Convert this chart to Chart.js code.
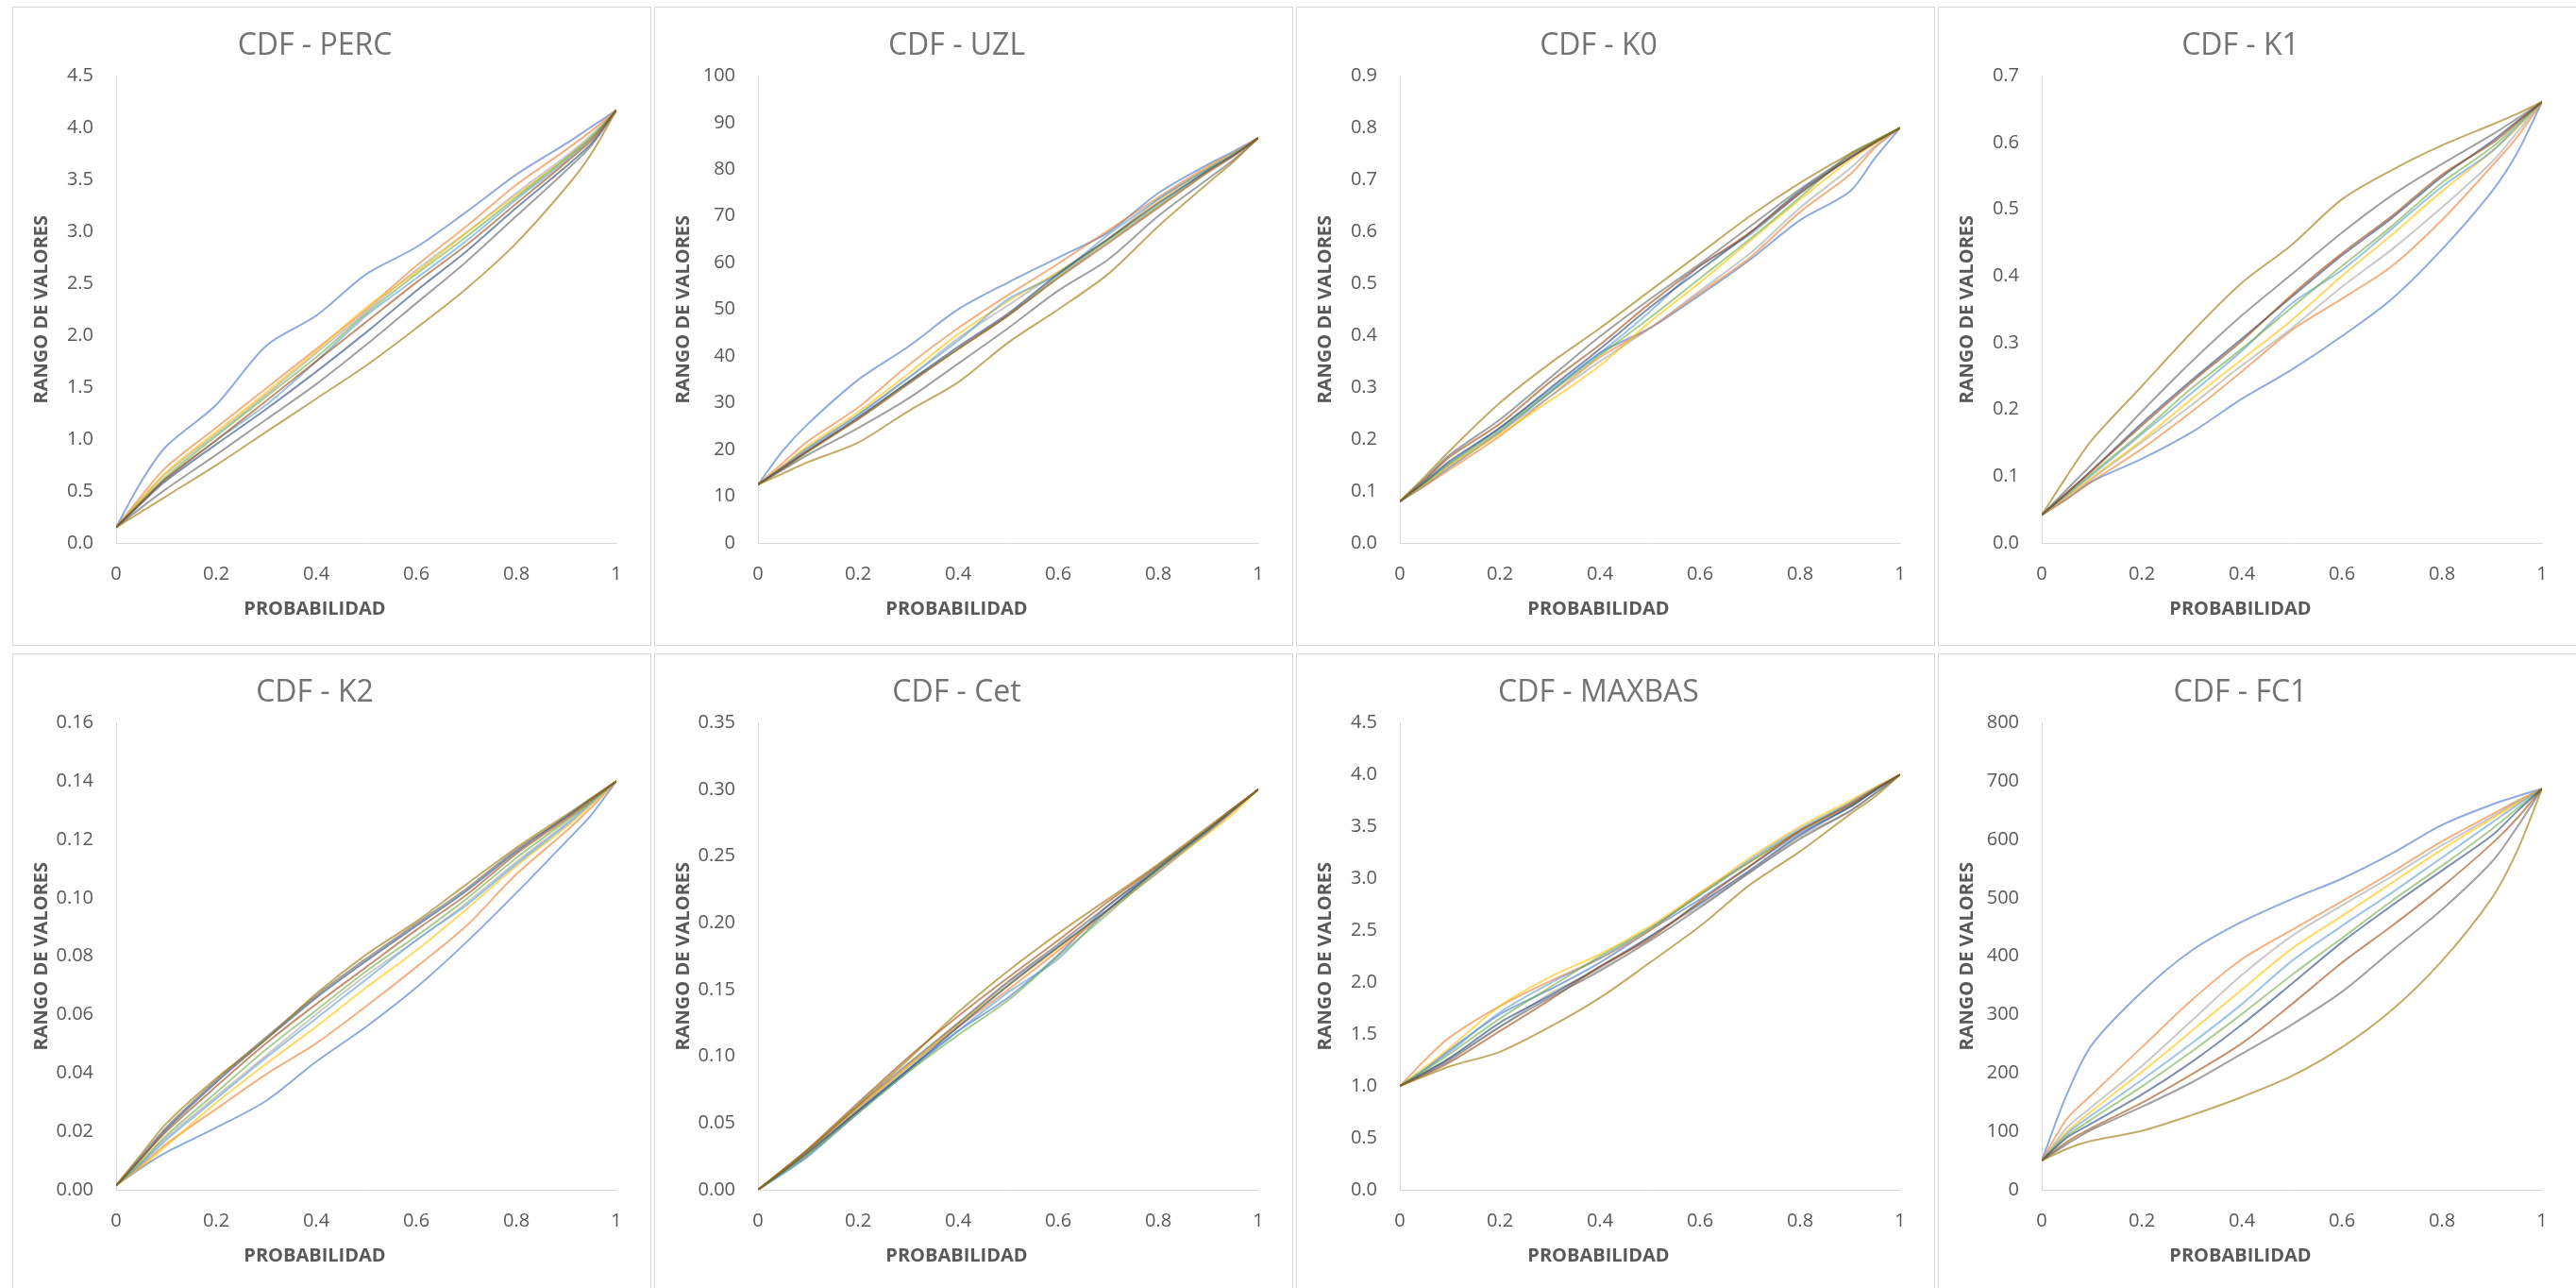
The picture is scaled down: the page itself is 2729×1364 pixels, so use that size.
<!DOCTYPE html>
<html>
<head>
<meta charset="utf-8">
<title>CDF</title>
<script src="https://cdn.jsdelivr.net/npm/chart.js@4.4.1/dist/chart.umd.min.js"></script>
<style>
  html, body { margin: 0; padding: 0; background: #fff; width: 2729px; height: 1364px; overflow: hidden; }
  .panel { position: absolute; width: 677px; height: 677px; border: 1px solid #d9d9d9; box-sizing: border-box; background: #fff; }
  .panel canvas { display: block; }
</style>
</head>
<body>
<script>
// ─── Data ───────────────────────────────────────────────────

const probs = [0, 0.05, 0.1, 0.2, 0.3, 0.4, 0.5, 0.6, 0.7, 0.8, 0.9, 0.95, 1];

const panelTitles = ['CDF - PERC', 'CDF - UZL', 'CDF - K0', 'CDF - K1',
                     'CDF - K2', 'CDF - Cet', 'CDF - MAXBAS', 'CDF - FC1'];
const yMaxes   = [4.5, 100, 0.9, 0.7, 0.16, 0.35, 4.5, 800];
const ySteps   = [0.5, 10, 0.1, 0.1, 0.02, 0.05, 0.5, 100];
const yDecimals = [1, 0, 1, 1, 2, 2, 1, 0];
const xTicks = [0, 0.2, 0.4, 0.6, 0.8, 1];

const percSeries = [
  [0.15, 0.59, 0.93, 1.33, 1.90, 2.19, 2.59, 2.85, 3.19, 3.55, 3.85, 4.01, 4.17],
  [0.15, 0.45, 0.73, 1.11, 1.49, 1.87, 2.25, 2.67, 3.05, 3.45, 3.79, 3.97, 4.17],
  [0.15, 0.42, 0.67, 1.05, 1.43, 1.83, 2.23, 2.63, 2.99, 3.37, 3.73, 3.93, 4.17],
  [0.15, 0.42, 0.68, 1.07, 1.45, 1.85, 2.27, 2.61, 2.99, 3.35, 3.71, 3.91, 4.17],
  [0.15, 0.39, 0.62, 0.99, 1.33, 1.75, 2.19, 2.55, 2.91, 3.31, 3.69, 3.90, 4.17],
  [0.15, 0.40, 0.64, 1.03, 1.41, 1.79, 2.21, 2.59, 2.95, 3.33, 3.71, 3.91, 4.17],
  [0.15, 0.38, 0.60, 0.95, 1.29, 1.65, 2.03, 2.43, 2.81, 3.23, 3.63, 3.85, 4.17],
  [0.15, 0.39, 0.62, 0.99, 1.37, 1.75, 2.13, 2.51, 2.87, 3.27, 3.67, 3.88, 4.17],
  [0.15, 0.34, 0.52, 0.85, 1.19, 1.53, 1.91, 2.31, 2.71, 3.15, 3.59, 3.83, 4.17],
  [0.15, 0.30, 0.45, 0.75, 1.07, 1.39, 1.71, 2.07, 2.45, 2.89, 3.43, 3.75, 4.17],
];

const uzlSeries = [
  [12.5, 19.8, 25.5, 34.9, 42.0, 50.0, 55.8, 61.1, 66.5, 74.9, 81.1, 83.8, 86.7],
  [12.5, 17.2, 21.8, 29.0, 38.0, 46.0, 53.1, 59.8, 66.9, 74.0, 80.7, 83.5, 86.7],
  [12.5, 16.4, 20.4, 27.5, 35.3, 43.8, 50.9, 58.0, 65.1, 73.6, 80.2, 83.3, 86.7],
  [12.5, 16.6, 20.8, 28.0, 36.2, 44.7, 51.8, 58.0, 65.1, 73.1, 80.4, 83.4, 86.7],
  [12.5, 16.4, 20.3, 27.4, 35.3, 43.3, 52.2, 57.6, 66.0, 73.6, 80.2, 83.3, 86.7],
  [12.5, 15.9, 19.5, 26.6, 34.4, 41.5, 48.7, 57.1, 64.7, 72.2, 79.8, 83.0, 86.7],
  [12.5, 16.1, 19.8, 26.9, 34.4, 42.0, 49.1, 57.6, 65.1, 72.7, 79.8, 83.0, 86.7],
  [12.5, 16.1, 19.7, 26.5, 34.0, 41.5, 48.7, 56.7, 64.2, 71.8, 79.4, 82.8, 86.7],
  [12.5, 15.7, 18.9, 24.6, 30.9, 38.4, 46.0, 54.0, 60.7, 70.0, 78.0, 82.0, 86.7],
  [12.5, 14.9, 17.3, 21.5, 28.2, 34.4, 42.9, 50.0, 57.6, 67.8, 77.1, 81.6, 86.7],
];

const k0Series = [
  [0.08, 0.111, 0.146, 0.214, 0.290, 0.366, 0.414, 0.478, 0.546, 0.622, 0.678, 0.742, 0.80],
  [0.08, 0.110, 0.142, 0.206, 0.282, 0.358, 0.414, 0.482, 0.550, 0.638, 0.710, 0.762, 0.80],
  [0.08, 0.114, 0.150, 0.214, 0.282, 0.350, 0.414, 0.486, 0.558, 0.646, 0.722, 0.765, 0.80],
  [0.08, 0.114, 0.150, 0.210, 0.274, 0.342, 0.426, 0.502, 0.582, 0.662, 0.738, 0.770, 0.80],
  [0.08, 0.116, 0.154, 0.222, 0.294, 0.366, 0.446, 0.534, 0.594, 0.674, 0.742, 0.772, 0.80],
  [0.08, 0.116, 0.154, 0.218, 0.290, 0.362, 0.434, 0.510, 0.586, 0.666, 0.750, 0.776, 0.80],
  [0.08, 0.118, 0.158, 0.222, 0.298, 0.374, 0.454, 0.526, 0.598, 0.678, 0.742, 0.772, 0.80],
  [0.08, 0.121, 0.166, 0.230, 0.310, 0.382, 0.462, 0.534, 0.598, 0.674, 0.742, 0.772, 0.80],
  [0.08, 0.124, 0.170, 0.238, 0.318, 0.398, 0.470, 0.538, 0.610, 0.682, 0.746, 0.774, 0.80],
  [0.08, 0.128, 0.178, 0.270, 0.346, 0.414, 0.486, 0.558, 0.630, 0.694, 0.750, 0.774, 0.80],
];

const k1Series = [
  [0.042, 0.066, 0.092, 0.126, 0.166, 0.216, 0.260, 0.310, 0.366, 0.440, 0.527, 0.584, 0.661],
  [0.042, 0.066, 0.092, 0.141, 0.197, 0.257, 0.319, 0.366, 0.415, 0.484, 0.565, 0.608, 0.661],
  [0.042, 0.069, 0.096, 0.151, 0.207, 0.266, 0.322, 0.384, 0.440, 0.503, 0.571, 0.615, 0.661],
  [0.042, 0.070, 0.098, 0.154, 0.216, 0.275, 0.334, 0.400, 0.462, 0.527, 0.587, 0.622, 0.661],
  [0.042, 0.072, 0.102, 0.163, 0.225, 0.288, 0.359, 0.409, 0.471, 0.534, 0.587, 0.624, 0.661],
  [0.042, 0.073, 0.104, 0.166, 0.232, 0.291, 0.353, 0.415, 0.475, 0.540, 0.593, 0.627, 0.661],
  [0.042, 0.075, 0.109, 0.179, 0.244, 0.306, 0.369, 0.431, 0.487, 0.549, 0.602, 0.632, 0.661],
  [0.042, 0.075, 0.108, 0.176, 0.241, 0.303, 0.372, 0.434, 0.490, 0.552, 0.599, 0.630, 0.661],
  [0.042, 0.080, 0.118, 0.197, 0.272, 0.341, 0.403, 0.465, 0.521, 0.568, 0.612, 0.636, 0.661],
  [0.042, 0.100, 0.154, 0.235, 0.316, 0.390, 0.447, 0.515, 0.559, 0.596, 0.627, 0.643, 0.661],
];

const k2Series = [
  [0.0015, 0.0075, 0.0128, 0.0213, 0.0305, 0.0439, 0.0559, 0.0693, 0.0848, 0.1017, 0.1194, 0.1285, 0.140],
  [0.0015, 0.0083, 0.0157, 0.0277, 0.0396, 0.0502, 0.0629, 0.0763, 0.0904, 0.1081, 0.1229, 0.1310, 0.140],
  [0.0015, 0.0093, 0.0178, 0.0319, 0.0460, 0.0601, 0.0735, 0.0855, 0.0982, 0.1123, 0.1256, 0.1330, 0.140],
  [0.0015, 0.0079, 0.0150, 0.0298, 0.0432, 0.0559, 0.0693, 0.0820, 0.0961, 0.1109, 0.1243, 0.1320, 0.140],
  [0.0015, 0.0089, 0.0171, 0.0312, 0.0453, 0.0587, 0.0721, 0.0855, 0.0975, 0.1116, 0.1250, 0.1325, 0.140],
  [0.0015, 0.0097, 0.0185, 0.0333, 0.0481, 0.0615, 0.0749, 0.0869, 0.0996, 0.1137, 0.1264, 0.1330, 0.140],
  [0.0015, 0.0107, 0.0206, 0.0368, 0.0516, 0.0658, 0.0784, 0.0904, 0.1024, 0.1158, 0.1278, 0.1340, 0.140],
  [0.0015, 0.0107, 0.0199, 0.0354, 0.0502, 0.0636, 0.0763, 0.0890, 0.1010, 0.1151, 0.1271, 0.1335, 0.140],
  [0.0015, 0.0114, 0.0213, 0.0375, 0.0523, 0.0665, 0.0792, 0.0911, 0.1031, 0.1165, 0.1278, 0.1340, 0.140],
  [0.0015, 0.0121, 0.0227, 0.0382, 0.0516, 0.0672, 0.0806, 0.0919, 0.1046, 0.1172, 0.1285, 0.1342, 0.140],
];

const cetSeries = [
  [0, 0.0125, 0.0256, 0.0590, 0.0898, 0.119, 0.144, 0.176, 0.213, 0.240, 0.268, 0.284, 0.300],
  [0, 0.0135, 0.0272, 0.0605, 0.0929, 0.122, 0.150, 0.179, 0.209, 0.238, 0.268, 0.284, 0.300],
  [0, 0.0135, 0.0272, 0.0605, 0.0914, 0.124, 0.155, 0.182, 0.210, 0.238, 0.269, 0.285, 0.300],
  [0, 0.0150, 0.0295, 0.0620, 0.0929, 0.124, 0.153, 0.181, 0.210, 0.240, 0.267, 0.282, 0.300],
  [0, 0.0120, 0.0250, 0.0574, 0.0883, 0.119, 0.148, 0.173, 0.210, 0.240, 0.269, 0.285, 0.300],
  [0, 0.0130, 0.0265, 0.0574, 0.0883, 0.116, 0.142, 0.175, 0.207, 0.240, 0.270, 0.285, 0.300],
  [0, 0.0138, 0.0281, 0.0590, 0.0898, 0.122, 0.153, 0.182, 0.210, 0.241, 0.270, 0.285, 0.300],
  [0, 0.0150, 0.0306, 0.0651, 0.0991, 0.130, 0.159, 0.187, 0.216, 0.243, 0.271, 0.286, 0.300],
  [0, 0.0142, 0.0292, 0.0627, 0.0944, 0.125, 0.156, 0.184, 0.213, 0.242, 0.270, 0.285, 0.300],
  [0, 0.0148, 0.0300, 0.0636, 0.0975, 0.133, 0.164, 0.192, 0.218, 0.244, 0.272, 0.286, 0.300],
];

const maxbasSeries = [
  [1.0, 1.16, 1.35, 1.69, 1.93, 2.19, 2.50, 2.80, 3.12, 3.44, 3.69, 3.85, 4.0],
  [1.0, 1.25, 1.47, 1.77, 2.01, 2.23, 2.50, 2.86, 3.16, 3.46, 3.73, 3.87, 4.0],
  [1.0, 1.13, 1.27, 1.57, 1.89, 2.13, 2.44, 2.74, 3.06, 3.40, 3.65, 3.82, 4.0],
  [1.0, 1.18, 1.37, 1.77, 2.05, 2.27, 2.54, 2.86, 3.20, 3.50, 3.75, 3.88, 4.0],
  [1.0, 1.16, 1.33, 1.71, 1.99, 2.23, 2.52, 2.84, 3.18, 3.48, 3.73, 3.87, 4.0],
  [1.0, 1.15, 1.31, 1.65, 1.95, 2.25, 2.52, 2.84, 3.16, 3.46, 3.71, 3.86, 4.0],
  [1.0, 1.13, 1.27, 1.61, 1.87, 2.15, 2.44, 2.76, 3.08, 3.42, 3.69, 3.85, 4.0],
  [1.0, 1.11, 1.23, 1.53, 1.83, 2.15, 2.42, 2.78, 3.12, 3.46, 3.71, 3.86, 4.0],
  [1.0, 1.12, 1.25, 1.57, 1.85, 2.11, 2.40, 2.72, 3.06, 3.38, 3.65, 3.82, 4.0],
  [1.0, 1.095, 1.19, 1.33, 1.57, 1.85, 2.19, 2.54, 2.94, 3.26, 3.62, 3.79, 4.0],
];

const fc1Series = [
  [50, 163, 248, 339, 410, 459, 498, 533, 576, 625, 660, 674, 687],
  [50, 121, 163, 244, 325, 395, 445, 494, 544, 597, 643, 666, 687],
  [50, 106, 142, 212, 290, 368, 435, 487, 537, 590, 639, 664, 687],
  [50,  99, 135, 202, 272, 343, 413, 469, 526, 583, 636, 662, 687],
  [50,  96, 128, 188, 251, 318, 392, 452, 509, 569, 629, 659, 687],
  [50,  92, 121, 177, 237, 301, 368, 431, 495, 555, 618, 653, 687],
  [50,  89, 114, 163, 219, 283, 353, 424, 487, 547, 607, 648, 687],
  [50,  82, 106, 149, 198, 251, 318, 389, 452, 519, 593, 636, 687],
  [50,  78, 103, 142, 184, 233, 283, 339, 410, 480, 562, 621, 687],
  [50,  70,  84, 101, 128, 159, 195, 244, 308, 392, 500, 580, 687],
];

const allSeries = [percSeries, uzlSeries, k0Series, k1Series,
                   k2Series, cetSeries, maxbasSeries, fc1Series];

// Excel default series palette, drawn at 60% opacity
const seriesColors = [
  'rgba(68,114,196,0.6)', 'rgba(237,125,49,0.6)', 'rgba(165,165,165,0.6)',
  'rgba(255,192,0,0.6)', 'rgba(91,155,213,0.6)', 'rgba(112,173,71,0.6)',
  'rgba(38,68,120,0.6)', 'rgba(158,72,14,0.6)', 'rgba(99,99,99,0.6)',
  'rgba(153,115,0,0.6)',
];

// ─── Chart ──────────────────────────────────────────────────

Chart.defaults.font.family = '"Open Sans", "Noto Sans", sans-serif';
Chart.defaults.color = '#595959';

const TEXT = '#595959';
const AXIS_LINE = '#d9d9d9';

function renderPanel(idx) {
  const col = idx % 4;
  const row = Math.floor(idx / 4);

  const panel = document.createElement('div');
  panel.className = 'panel';
  panel.style.left = (13 + col * 680) + 'px';
  panel.style.top = (row === 0 ? 7 : 692) + 'px';
  const canvas = document.createElement('canvas');
  canvas.width = 675;
  canvas.height = 675;
  panel.appendChild(canvas);
  document.body.appendChild(panel);

  const dec = yDecimals[idx];
  const datasets = allSeries[idx].map((vals, s) => ({
    data: probs.map((p, k) => ({ x: p, y: vals[k] })),
    borderColor: seriesColors[s],
    borderWidth: 2,
    pointRadius: 0,
    fill: false,
    tension: 0.3,
    order: 10 - s,
  }));

  new Chart(canvas, {
    type: 'line',
    data: { datasets },
    options: {
      responsive: false,
      animation: false,
      events: [],
      layout: { padding: { left: 0, right: 36, top: 0, bottom: 0 } },
      plugins: {
        legend: { display: false },
        tooltip: { enabled: false },
        title: {
          display: true,
          text: panelTitles[idx],
          color: '#737373',
          font: { size: 32, weight: 'normal', lineHeight: 1.2 },
          padding: { top: 22, bottom: 12 },
        },
        subtitle: {
          display: true,
          position: 'bottom',
          text: 'PROBABILIDAD',
          color: TEXT,
          font: { size: 20, weight: 'bold', lineHeight: 1.2 },
          padding: { top: 0, bottom: 26 },
        },
      },
      scales: {
        x: {
          type: 'linear',
          min: 0,
          max: 1,
          afterBuildTicks: axis => { axis.ticks = xTicks.map(v => ({ value: v })); },
          afterFit: axis => { axis.height = 58; },
          grid: { display: false, drawTicks: false },
          border: { display: true, color: AXIS_LINE, width: 1 },
          ticks: {
            color: TEXT,
            font: { size: 20 },
            padding: 21,
            maxRotation: 0,
            callback: v => (v === 0 || v === 1) ? String(v) : v.toFixed(1),
          },
        },
        y: {
          min: 0,
          max: yMaxes[idx],
          afterFit: axis => { axis.width = 109; },
          grid: { display: false, drawTicks: false },
          border: { display: true, color: AXIS_LINE, width: 1 },
          ticks: {
            stepSize: ySteps[idx],
            color: TEXT,
            font: { size: 20 },
            padding: 24,
            callback: v => Number(v).toFixed(dec),
          },
          title: {
            display: true,
            text: 'RANGO DE VALORES',
            color: TEXT,
            font: { size: 20, weight: 'bold', lineHeight: 1.2 },
            padding: { top: 18, bottom: 0 },
          },
        },
      },
    },
  });
}

for (let i = 0; i < panelTitles.length; i++) renderPanel(i);
</script>
</body>
</html>
